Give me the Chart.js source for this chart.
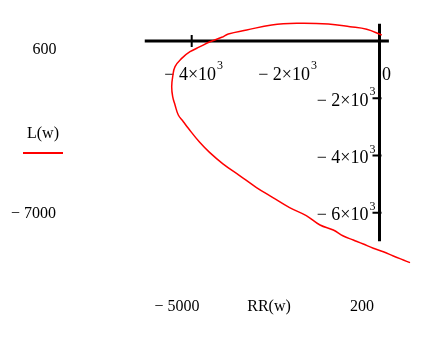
<!DOCTYPE html>
<html>
<head>
<meta charset="utf-8">
<script src="https://cdn.jsdelivr.net/npm/chart.js@4.4.0/dist/chart.umd.min.js"></script>
<style>
  html, body { margin: 0; padding: 0; background: #fff; }
  canvas { display: block; }
</style>
</head>
<body>
<canvas id="plot" width="423" height="347"></canvas>
<script>
// Mathcad style parametric plot: L(w) against RR(w), crossed axes

// curve (start at top right, round the left, down to bottom right)
const RR = [47, -273, -628, -1090, -1763, -2296, -2828, -3220, -3361, -3610,
  -3823, -4036, -4213, -4355, -4405, -4426, -4405, -4355, -4285, -4178,
  -4072, -3830, -3620, -3335, -2980, -2620, -2270, -1915, -1560, -1267,
  -984, -771, -558, -345, -132, 81, 294, 507, 650];
const L = [210, 409, 500, 594, 618, 559, 384, 245, 129, -24,
  -199, -374, -606, -897, -1247, -1596, -1946, -2236, -2586, -2819,
  -3051, -3540, -3890, -4290, -4700, -5120, -5470, -5820, -6100, -6429,
  -6604, -6813, -6953, -7093, -7243, -7362, -7512, -7652, -7745];

// axis limits, shown as the corner labels
const xLimits = [-5000, 200];
const yLimits = [-7000, 600];

// ticks on the crossed axes
const xTicks = [-4000, -2000, 0];
const xTickLabels = [['\u2212 4\u00d710', '3'], ['\u2212 2\u00d710', '3'], ['0', '']];
const xTickMarks = [-4000];
const yTicks = [-2000, -4000, -6000];
const yTickLabels = [['\u2212 2\u00d710', '3'], ['\u2212 4\u00d710', '3'], ['\u2212 6\u00d710', '3']];

const FONT = '"Liberation Serif", "Times New Roman", serif';

function fmt(v) {
  return v < 0 ? '\u2212 ' + Math.abs(v) : String(v);
}

// base text with a raised exponent
function drawPow(ctx, base, exp, x, y, align) {
  ctx.font = '18px ' + FONT;
  const wb = ctx.measureText(base).width;
  ctx.font = '12px ' + FONT;
  const we = exp ? ctx.measureText(exp).width + 1 : 0;
  let left = x;
  if (align === 'center') left = x - (wb + we) / 2;
  else if (align === 'right') left = x - wb - we;
  ctx.textAlign = 'left';
  ctx.textBaseline = 'middle';
  ctx.font = '18px ' + FONT;
  ctx.fillText(base, left, y);
  if (exp) {
    ctx.font = '12px ' + FONT;
    ctx.fillText(exp, left + wb + 1, y - 9);
  }
}

const crossedAxes = {
  id: 'crossedAxes',
  beforeDatasetsDraw(chart) {
    const { ctx, scales: { x, y } } = chart;
    const x0 = x.getPixelForValue(0);
    const y0 = y.getPixelForValue(0);
    ctx.save();
    ctx.strokeStyle = '#000';
    ctx.lineWidth = 3;
    ctx.beginPath();
    ctx.moveTo(x.getPixelForValue(xLimits[0]), y0);
    ctx.lineTo(x.getPixelForValue(xLimits[1]), y0);
    ctx.moveTo(x0, y.getPixelForValue(yLimits[1]));
    ctx.lineTo(x0, y.getPixelForValue(yLimits[0]));
    ctx.stroke();

    ctx.lineWidth = 2;
    ctx.beginPath();
    xTickMarks.forEach(v => {
      const px = x.getPixelForValue(v);
      ctx.moveTo(px, y0 - 6);
      ctx.lineTo(px, y0 + 6);
    });
    yTicks.forEach(v => {
      const py = y.getPixelForValue(v);
      ctx.moveTo(x0 - 7, py);
      ctx.lineTo(x0 + 2, py);
    });
    ctx.stroke();

    ctx.fillStyle = '#000';
    xTicks.forEach((v, i) => {
      const [b, e] = xTickLabels[i];
      const px = x.getPixelForValue(v) + (v === 0 ? 7 : 2);
      drawPow(ctx, b, e, px, y0 + 34, 'center');
    });
    yTicks.forEach((v, i) => {
      const [b, e] = yTickLabels[i];
      drawPow(ctx, b, e, x0 - 4, y.getPixelForValue(v) + 3, 'right');
    });
    ctx.restore();
  },
  afterDraw(chart) {
    const ctx = chart.ctx;
    ctx.save();
    ctx.fillStyle = '#000';
    ctx.font = '16px ' + FONT;
    ctx.textAlign = 'center';
    ctx.textBaseline = 'middle';
    // y limits and name on the left
    ctx.fillText(fmt(yLimits[1]), 44.5, 50);
    ctx.fillText('L(w)', 43, 134);
    ctx.fillText(fmt(yLimits[0]), 33.5, 214);
    // x limits and name below
    ctx.fillText(fmt(xLimits[0]), 177, 307);
    ctx.fillText('RR(w)', 269, 307);
    ctx.fillText(fmt(xLimits[1]), 362, 307);
    // trace key
    ctx.strokeStyle = '#ff0000';
    ctx.lineWidth = 2;
    ctx.beginPath();
    ctx.moveTo(23, 153);
    ctx.lineTo(63, 153);
    ctx.stroke();
    ctx.restore();
  }
};

new Chart(document.getElementById('plot'), {
  type: 'scatter',
  data: {
    datasets: [{
      label: 'L(w)',
      data: RR.map((v, i) => ({ x: v, y: L[i] })),
      showLine: true,
      borderColor: '#ff0000',
      borderWidth: 1.5,
      pointRadius: 0,
      tension: 0.4,
      fill: false,
    }],
  },
  options: {
    responsive: false,
    animation: false,
    events: [],
    layout: { padding: { left: 144.75, right: 5.94, top: 20.97, bottom: 77.04 } },
    plugins: {
      legend: { display: false },
      tooltip: { enabled: false },
    },
    scales: {
      x: { type: 'linear', display: false, min: -5000, max: 800 },
      y: { type: 'linear', display: false, min: -8000, max: 700 },
    },
  },
  plugins: [crossedAxes],
});
</script>
</body>
</html>
